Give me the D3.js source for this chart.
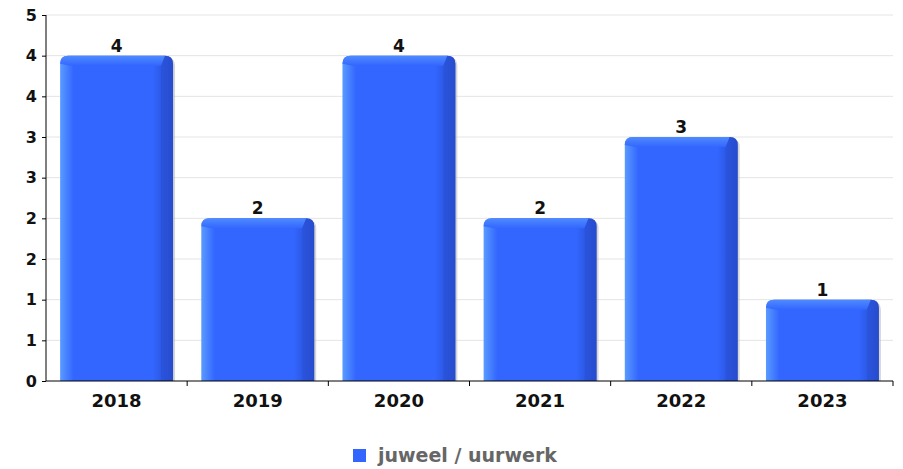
<!DOCTYPE html>
<html>
<head>
<meta charset="utf-8">
<script src="https://cdn.jsdelivr.net/npm/d3@7"></script>
<style>
  body { margin: 0; background: #fff; }
  text { font-family: "DejaVu Sans", sans-serif; font-weight: bold; }
</style>
</head>
<body>
<script>
// Data
var years = ['2018', '2019', '2020', '2021', '2022', '2023'];
var counts = [4, 2, 4, 2, 3, 1];
var yTicks = [0, 0.5, 1, 1.5, 2, 2.5, 3, 3.5, 4, 4.5];
var seriesName = 'juweel / uurwerk';

var width = 903, height = 469;
var plotLeft = 46, plotRight = 893, plotTop = 15, plotBottom = 381;

var svg = d3.select('body').append('svg')
    .attr('width', width)
    .attr('height', height);

var defs = svg.append('defs');
var hg = defs.append('linearGradient').attr('id', 'barH')
    .attr('x1', 0).attr('x2', 1).attr('y1', 0).attr('y2', 0);
hg.append('stop').attr('offset', '0%').attr('stop-color', '#5a9bff');
hg.append('stop').attr('offset', '12%').attr('stop-color', '#3366ff');
hg.append('stop').attr('offset', '82%').attr('stop-color', '#3366ff');
hg.append('stop').attr('offset', '100%').attr('stop-color', '#2448c4');

var vg = defs.append('linearGradient').attr('id', 'barTop')
    .attr('x1', 0).attr('x2', 0).attr('y1', 0).attr('y2', 1);
vg.append('stop').attr('offset', '0%').attr('stop-color', '#4f8bff');
vg.append('stop').attr('offset', '100%').attr('stop-color', '#3366ff');

var x = d3.scaleBand().domain(years).range([plotLeft, plotRight]).paddingInner(0.2).paddingOuter(0.1);
var xb = d3.scaleBand().domain(years).range([plotLeft, plotRight]);
var y = d3.scaleLinear().domain([0, 4.5]).range([plotBottom, plotTop]);

// grid
svg.append('g').selectAll('line')
    .data(yTicks.slice(1))
    .enter().append('line')
    .attr('x1', plotLeft).attr('x2', plotRight)
    .attr('y1', function(d) { return y(d); })
    .attr('y2', function(d) { return y(d); })
    .attr('stroke', '#e4e4e4')
    .attr('stroke-width', 1);

// bars
var bars = svg.append('g').selectAll('g')
    .data(counts)
    .enter().append('g');

var r = 8;
function barPath(x0, w, yt, yb) {
    return 'M' + x0 + ',' + yb +
        'L' + x0 + ',' + (yt + r) +
        'Q' + x0 + ',' + yt + ' ' + (x0 + r) + ',' + yt +
        'L' + (x0 + w - r) + ',' + yt +
        'Q' + (x0 + w) + ',' + yt + ' ' + (x0 + w) + ',' + (yt + r) +
        'L' + (x0 + w) + ',' + yb + 'Z';
}

// shadow
bars.append('path')
    .attr('d', function(d, i) { return barPath(x(years[i]) + 2, x.bandwidth(), y(d) + 2, plotBottom); })
    .attr('fill', '#bbbbbb')
    .attr('opacity', 0.6);

bars.append('path')
    .attr('d', function(d, i) { return barPath(x(years[i]), x.bandwidth(), y(d), plotBottom); })
    .attr('fill', 'url(#barH)');

// top bevel
bars.append('path')
    .attr('d', function(d, i) {
        var x0 = x(years[i]), w = x.bandwidth(), yt = y(d);
        return 'M' + x0 + ',' + (yt + r) +
            'Q' + x0 + ',' + yt + ' ' + (x0 + r) + ',' + yt +
            'L' + (x0 + w - r) + ',' + yt +
            'L' + (x0 + w - 12) + ',' + (yt + 10) +
            'L' + (x0 + 10) + ',' + (yt + 10) + 'Z';
    })
    .attr('fill', 'url(#barTop)');

// right bevel
bars.append('path')
    .attr('d', function(d, i) {
        var x0 = x(years[i]), w = x.bandwidth(), yt = y(d);
        return 'M' + (x0 + w - r) + ',' + yt +
            'Q' + (x0 + w) + ',' + yt + ' ' + (x0 + w) + ',' + (yt + r) +
            'L' + (x0 + w) + ',' + plotBottom +
            'L' + (x0 + w - 12) + ',' + plotBottom +
            'L' + (x0 + w - 12) + ',' + (yt + 10) + 'Z';
    })
    .attr('fill', '#2a50d6')
    .attr('opacity', 0.55);

// value labels
bars.append('text')
    .attr('x', function(d, i) { return x(years[i]) + x.bandwidth() / 2; })
    .attr('y', function(d) { return y(d) - 4; })
    .attr('text-anchor', 'middle')
    .attr('font-size', 17)
    .attr('fill', '#111')
    .text(function(d) { return d; });

// y axis
var yAxis = svg.append('g')
    .attr('transform', 'translate(' + plotLeft + ',0)')
    .call(d3.axisLeft(y).tickValues(yTicks).tickSize(4).tickPadding(5)
        .tickFormat(function(d) { return Math.round(d); }));
yAxis.select('.domain').attr('d', 'M0,' + plotTop + 'V' + plotBottom).attr('stroke', '#000');
yAxis.selectAll('text').attr('font-size', 16).attr('fill', '#111');
yAxis.selectAll('line').attr('stroke', '#000');

// x axis
var xAxis = svg.append('g')
    .attr('transform', 'translate(0,' + plotBottom + ')');
xAxis.append('line')
    .attr('x1', plotLeft).attr('x2', plotRight)
    .attr('stroke', '#000');
xAxis.selectAll('line.tick')
    .data(years)
    .enter().append('line')
    .attr('class', 'tick')
    .attr('x1', function(d) { return xb(d) + xb.bandwidth(); })
    .attr('x2', function(d) { return xb(d) + xb.bandwidth(); })
    .attr('y1', 0).attr('y2', 5)
    .attr('stroke', '#000');
xAxis.selectAll('text')
    .data(years)
    .enter().append('text')
    .attr('x', function(d) { return xb(d) + xb.bandwidth() / 2; })
    .attr('y', 26)
    .attr('text-anchor', 'middle')
    .attr('font-size', 18)
    .attr('fill', '#111')
    .text(function(d) { return d; });

// legend
var legend = svg.append('g');
legend.append('rect')
    .attr('x', 353).attr('y', 449)
    .attr('width', 13).attr('height', 13)
    .attr('fill', '#3366ff');
legend.append('text')
    .attr('x', 378).attr('y', 462)
    .attr('font-size', 19)
    .attr('fill', '#666')
    .text(seriesName);
</script>
</body>
</html>
